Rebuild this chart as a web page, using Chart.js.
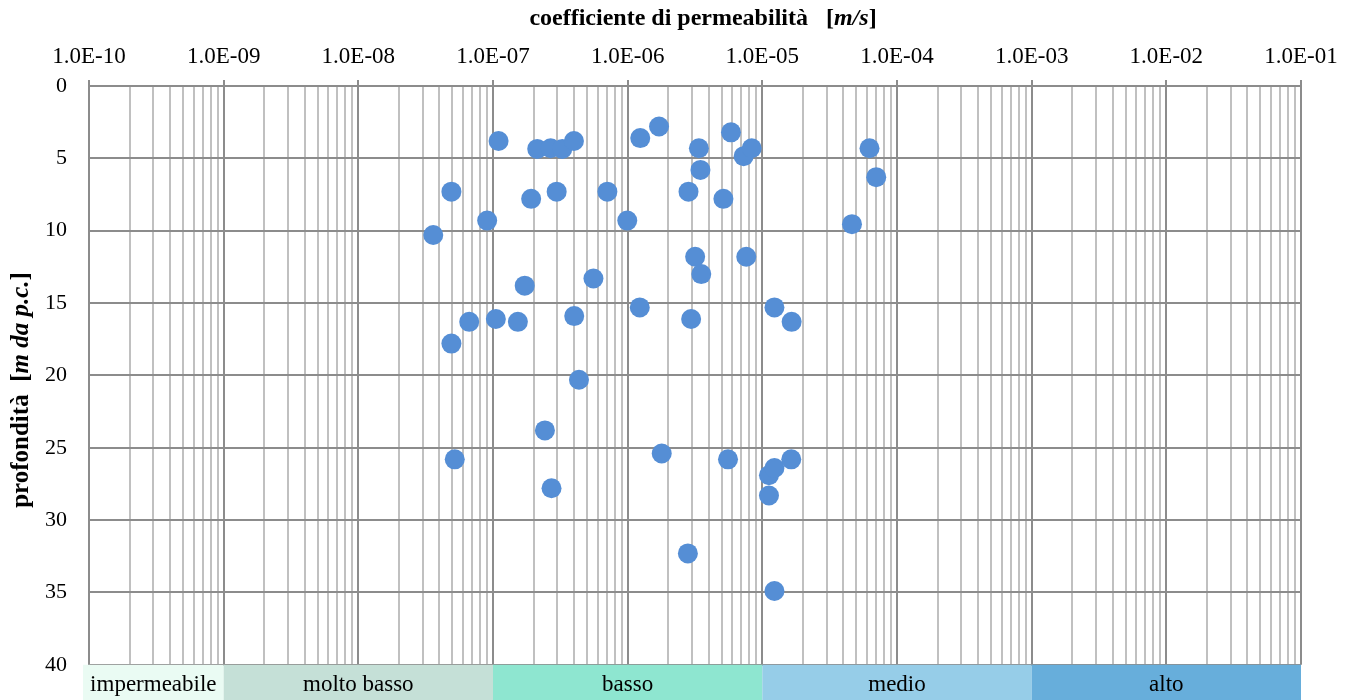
<!DOCTYPE html>
<html>
<head>
<meta charset="utf-8">
<script src="https://cdn.jsdelivr.net/npm/chart.js@4.4.1/dist/chart.umd.min.js"></script>
<style>
  html, body { margin: 0; padding: 0; background: #fff; }
</style>
</head>
<body>
<canvas id="permChart" width="1354" height="700"></canvas>
<script>
// coefficiente di permeabilità [m/s] misurato nelle prove
const permeabilita = [
    3.60e-8, 4.91e-8, 4.91e-8, 5.20e-8, 6.66e-8, 9.05e-8, 1.05e-7, 1.10e-7, 1.53e-7, 1.72e-7,
    1.92e-7, 2.13e-7, 2.43e-7, 2.68e-7, 2.72e-7, 2.97e-7, 3.27e-7, 4.01e-7, 3.99e-7, 4.35e-7,
    5.57e-7, 7.07e-7, 9.93e-7, 1.24e-6, 1.23e-6, 1.71e-6, 1.79e-6, 2.83e-6, 2.80e-6, 2.96e-6,
    3.17e-6, 3.38e-6, 3.47e-6, 3.52e-6, 5.14e-6, 5.56e-6, 5.85e-6, 7.27e-6, 7.60e-6, 8.34e-6,
    1.12e-5, 1.12e-5, 1.23e-5, 1.23e-5, 1.23e-5, 1.65e-5, 1.64e-5, 4.63e-5, 6.25e-5, 7.01e-5
];
// profondità della prova [m da p.c.]
const profondita = [
    10.3, 7.3, 17.8, 25.8, 16.3, 9.3, 16.1, 3.8, 16.3, 13.8,
    7.8, 4.35, 23.8, 4.3, 27.8, 7.3, 4.35, 15.9, 3.8, 20.3,
    13.3, 7.3, 9.3, 3.6, 15.3, 2.8, 25.4, 7.3, 32.3, 16.1,
    11.8, 4.3, 5.8, 13.0, 7.8, 25.8, 3.2, 4.85, 11.8, 4.3,
    26.9, 28.3, 15.3, 26.4, 34.9, 16.3, 25.8, 9.55, 4.3, 6.3
];

// classi di permeabilità e relativi limiti [m/s]
const classi = ['impermeabile', 'molto basso', 'basso', 'medio', 'alto'];
const limitiClassi = [1e-10, 1e-9, 1e-7, 1e-5, 1e-3, 1e-1];

// esponenti delle decadi sull'asse x, profondità sull'asse y
const esponenti = [-10, -9, -8, -7, -6, -5, -4, -3, -2, -1];
const yTicks = [0, 5, 10, 15, 20, 25, 30, 35, 40];

const coloriClassi = ['#EAFBF3', '#C5E0D7', '#8EE6D0', '#96CDE8', '#67AEDB'];
const FONT = '"Liberation Serif", "Times New Roman", serif';
const grigio = '#8C8C8C';
const grigioChiaro = '#C0C0C0';

Chart.defaults.font.family = FONT;
Chart.defaults.color = '#000';

// 1.0E-07 ecc.
function formatoE(v) {
    const e = Math.round(Math.log10(v));
    const a = Math.abs(e);
    return '1.0E' + (e < 0 ? '-' : '+') + (a < 10 ? '0' + a : a);
}

// tacche: decadi (major) e multipli 2..9 (minor)
const tacche = [];
esponenti.forEach((e, i) => {
    tacche.push({ value: Math.pow(10, e), major: true });
    if (i < esponenti.length - 1) {
        for (let k = 2; k <= 9; k++) {
            tacche.push({ value: parseFloat((k * Math.pow(10, e)).toPrecision(6)), major: false });
        }
    }
});

// scrive un testo con parti in font diversi, centrato su x
function testoMisto(ctx, parti, x, y) {
    let w = 0;
    parti.forEach(p => { ctx.font = p[1]; w += ctx.measureText(p[0]).width; });
    let cx = x - w / 2;
    parti.forEach(p => {
        ctx.font = p[1];
        ctx.fillText(p[0], cx, y);
        cx += ctx.measureText(p[0]).width;
    });
}

// titoli degli assi (grassetto + corsivo)
const titoli = {
    id: 'titoli',
    afterDraw(chart) {
        const ctx = chart.ctx;
        ctx.save();
        ctx.fillStyle = '#000';
        ctx.textAlign = 'left';
        ctx.textBaseline = 'middle';
        let b = 'bold 24px ' + FONT;
        let bi = 'italic bold 24px ' + FONT;
        testoMisto(ctx, [['coefficiente di permeabilità   [', b], ['m/s', bi], [']', b]], 703, 19);
        b = 'bold 25px ' + FONT;
        bi = 'italic bold 25px ' + FONT;
        ctx.translate(22, 390);
        ctx.rotate(-Math.PI / 2);
        testoMisto(ctx, [['profondità  [', b], ['m da p.c.', bi], [']', b]], 0, 0);
        ctx.restore();
    }
};

// fascia colorata delle classi sotto il grafico
const fasciaClassi = {
    id: 'fasciaClassi',
    afterDraw(chart) {
        const { ctx, chartArea, scales: { x } } = chart;
        const top = chartArea.bottom;
        const h = chart.height - top;
        ctx.save();
        ctx.font = '23px ' + FONT;
        ctx.textAlign = 'center';
        ctx.textBaseline = 'middle';
        classi.forEach((nome, i) => {
            let x0 = x.getPixelForValue(limitiClassi[i]);
            const x1 = x.getPixelForValue(limitiClassi[i + 1]);
            if (i === 0) x0 -= 6;
            ctx.fillStyle = coloriClassi[i];
            ctx.fillRect(x0, top, x1 - x0, h);
            ctx.fillStyle = '#000';
            ctx.fillText(nome, (x0 + x1) / 2, top + h / 2 + 3);
        });
        ctx.restore();
    }
};

new Chart(document.getElementById('permChart'), {
    type: 'scatter',
    data: {
        datasets: [{
            data: permeabilita.map((k, i) => ({ x: k, y: profondita[i] })),
            backgroundColor: '#558ED5',
            borderColor: '#558ED5',
            borderWidth: 0,
            pointRadius: 10,
            pointHoverRadius: 10
        }]
    },
    options: {
        responsive: false,
        animation: false,
        layout: { padding: { top: 0, left: 0, right: 53, bottom: 28 } },
        plugins: {
            legend: { display: false },
            tooltip: { enabled: false }
        },
        scales: {
            x: {
                type: 'logarithmic',
                position: 'top',
                min: 1e-10,
                max: 1e-1,
                afterBuildTicks: scale => { scale.ticks = tacche.map(t => ({ ...t })); },
                afterFit: scale => { scale.height = 86; },
                ticks: {
                    autoSkip: false,
                    maxRotation: 0,
                    padding: 9,
                    font: { size: 23 },
                    callback: (v, i, ticks) => ticks[i].major ? formatoE(v) : ''
                },
                grid: {
                    lineWidth: 2,
                    color: c => c.tick && c.tick.major ? grigio : grigioChiaro,
                    drawTicks: true,
                    tickLength: 6,
                    tickColor: c => c.tick && c.tick.major ? grigio : 'rgba(0,0,0,0)'
                },
                border: { display: true, color: grigio, width: 2 }
            },
            y: {
                reverse: true,
                min: 0,
                max: 40,
                afterBuildTicks: scale => { scale.ticks = yTicks.map(v => ({ value: v })); },
                afterFit: scale => { scale.width = 89; },
                ticks: { padding: 22, font: { size: 22 } },
                grid: { lineWidth: 2, color: grigio, drawTicks: false },
                border: { display: true, color: grigio, width: 2 }
            }
        }
    },
    plugins: [fasciaClassi, titoli]
});
</script>
</body>
</html>
